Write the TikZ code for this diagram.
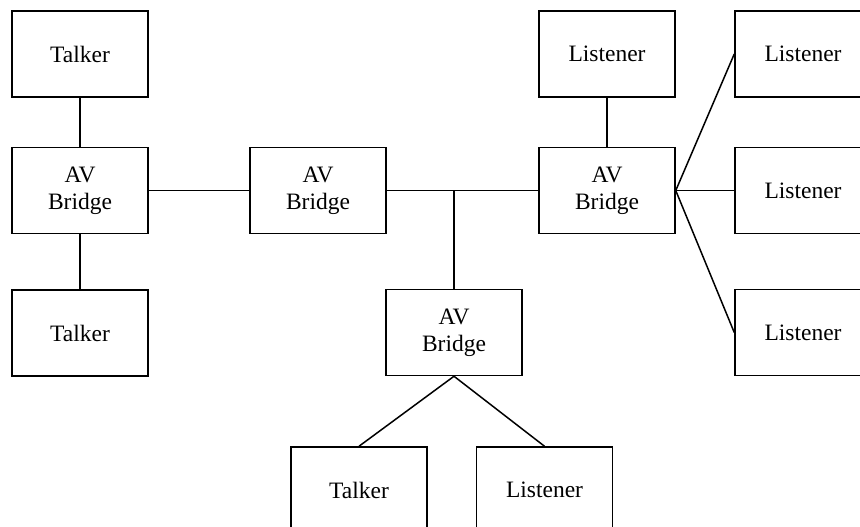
\documentclass[tikz,border=0pt]{standalone}
\usepackage{fontspec}
\setmainfont{Liberation Serif}
\begin{document}
\begin{tikzpicture}[x=1pt,y=-1pt,
  unit/.style={draw, line width=1.5pt, rectangle, minimum width=136pt, minimum height=86pt,
    inner sep=0pt, align=center, font=\fontsize{23.5}{27}\selectfont},
  wire/.style={line width=1.5pt}]
\useasboundingbox (0,0) rectangle (860,527);
\clip (0,0) rectangle (860,527);

% devices
\node[unit] (t1) at (80,54) {Talker};
\node[unit] (b1) at (80,190.5) {AV\\Bridge};
\node[unit] (t2) at (80,333) {Talker};
\node[unit] (b2) at (318,190.5) {AV\\Bridge};
\node[unit] (b3) at (454,332.5) {AV\\Bridge};
\node[unit] (b4) at (607,190.5) {AV\\Bridge};
\node[unit] (l1) at (607,54) {Listener};
\node[unit] (l2) at (803,54) {Listener};
\node[unit] (l3) at (803,190.5) {Listener};
\node[unit] (l4) at (803,332.5) {Listener};
\node[unit] (t3) at (359,490) {Talker};
\node[unit] (l5) at (544.5,490) {Listener};

% links
\coordinate (j) at (b3.north |- b2.east);
\draw[wire] (t1.south) -- (b1.north);
\draw[wire] (b1.south) -- (t2.north);
\draw[wire] (b1.east) -- (b2.west);
\draw[wire] (b2.east) -- (b4.west);
\draw[wire] (j) -- (b3.north);
\draw[wire] (l1.south) -- (b4.north);
\draw[wire] (b4.east) -- (l2.west);
\draw[wire] (b4.east) -- (l3.west);
\draw[wire] (b4.east) -- (l4.west);
\draw[wire] (b3.south) -- (t3.north);
\draw[wire] (b3.south) -- (l5.north);
\end{tikzpicture}
\end{document}
